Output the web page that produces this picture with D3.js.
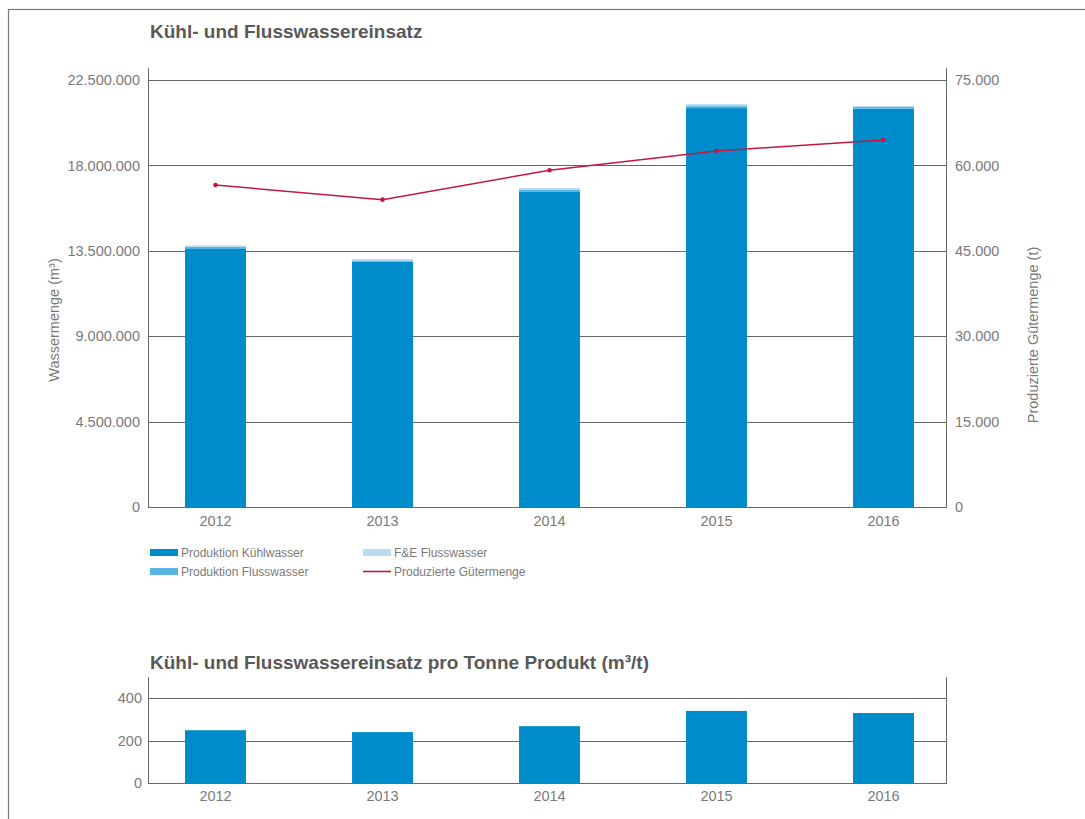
<!DOCTYPE html>
<html lang="de">
<head>
<meta charset="utf-8">
<script src="https://cdn.jsdelivr.net/npm/d3@7"></script>
<style>
  html, body { margin: 0; padding: 0; background: #fff; }
  svg { display: block; font-family: "Liberation Sans", Arial, sans-serif; }
</style>
</head>
<body>
<script>
// Jahre und Werte
const years = ["2012", "2013", "2014", "2015", "2016"];
const kuehlwasser = [13630000, 12920000, 16600000, 21020000, 20990000];      // m³
const flusswasser = [84000, 74000, 105000, 105000, 90000];                    // m³
const feFlusswasser = [74000, 70000, 105000, 105000, 50000];                  // m³
const guetermenge = [56550, 53980, 59140, 62530, 64460];                      // t
const proTonne = [249, 240, 268, 340, 330];                                   // m³/t

const leftTicks = [0, 4500000, 9000000, 13500000, 18000000, 22500000];
const rightTicks = [0, 15000, 30000, 45000, 60000, 75000];
const lowerTicks = [0, 200, 400];

const seriesNames = ["Produktion Kühlwasser", "Produktion Flusswasser", "F&E Flusswasser", "Produzierte Gütermenge"];
const colors = { dark: "#008bcb", mid: "#5bb5e2", light: "#b7dcf1", line: "#c3173f", grid: "#686868", text: "#7a7a7a" };

const W = 1085, H = 819;
const svg = d3.select("body").append("svg").attr("width", W).attr("height", H);

const fmt = d3.formatLocale({ decimal: ",", thousands: ".", grouping: [3], currency: ["", "€"] }).format(",d");

// Rahmen
svg.append("rect").attr("x", 8.5).attr("y", 9.5).attr("width", W + 20).attr("height", H + 20)
  .attr("fill", "none").attr("stroke", "#7a7a7a").attr("stroke-width", 1.2);

const x0 = 148, x1 = 946;

// Obere Grafik
const yTop = 80, yBottom = 507;
const x = d3.scaleBand().domain(years).range([132, 967]).paddingInner(0.635).paddingOuter(0.3175);
const yL = d3.scaleLinear().domain([0, 22500000]).range([yBottom, yTop]);
const yR = d3.scaleLinear().domain([0, 75000]).range([yBottom, yTop]);

svg.append("text").attr("x", 150).attr("y", 38).attr("font-size", 19).attr("font-weight", "bold")
  .attr("fill", "#595959").text("Kühl- und Flusswassereinsatz");

// Gitterlinien
svg.append("g").selectAll("line").data(leftTicks).join("line")
  .attr("x1", x0).attr("x2", x1)
  .attr("y1", d => Math.round(yL(d)) + 0.5).attr("y2", d => Math.round(yL(d)) + 0.5)
  .attr("stroke", colors.grid).attr("stroke-width", 1);

// Achsenlinien
svg.append("line").attr("x1", x0 + 0.5).attr("x2", x0 + 0.5).attr("y1", 68).attr("y2", yBottom + 1)
  .attr("stroke", colors.grid);
svg.append("line").attr("x1", x1 + 0.5).attr("x2", x1 + 0.5).attr("y1", 68).attr("y2", yBottom + 1)
  .attr("stroke", colors.grid);

// Achsenbeschriftungen
const leftAxis = d3.axisLeft(yL).tickValues(leftTicks).tickFormat(fmt).tickSize(0).tickPadding(8);
svg.append("g").attr("transform", `translate(${x0},0)`).call(leftAxis)
  .call(g => g.select(".domain").remove())
  .selectAll("text").attr("font-size", 14.5).attr("fill", colors.text).attr("font-family", "Liberation Sans, Arial, sans-serif");

const rightAxis = d3.axisRight(yR).tickValues(rightTicks).tickFormat(fmt).tickSize(0).tickPadding(9);
svg.append("g").attr("transform", `translate(${x1},0)`).call(rightAxis)
  .call(g => g.select(".domain").remove())
  .selectAll("text").attr("font-size", 14.5).attr("fill", colors.text).attr("font-family", "Liberation Sans, Arial, sans-serif");

const bottomAxis = d3.axisBottom(x).tickSize(0).tickPadding(9);
svg.append("g").attr("transform", `translate(0,${yBottom})`).call(bottomAxis)
  .call(g => g.select(".domain").remove())
  .selectAll("text").attr("font-size", 14.5).attr("fill", colors.text).attr("font-family", "Liberation Sans, Arial, sans-serif");

svg.append("text").attr("transform", `translate(59,320) rotate(-90)`).attr("text-anchor", "middle")
  .attr("font-size", 14.5).attr("fill", colors.text).text("Wassermenge (m³)");
svg.append("text").attr("transform", `translate(1038,335) rotate(-90)`).attr("text-anchor", "middle")
  .attr("font-size", 14.5).attr("fill", colors.text).text("Produzierte Gütermenge (t)");

// Gestapelte Balken
const rows = years.map((y, i) => ({ year: y, k: kuehlwasser[i], f: flusswasser[i], e: feFlusswasser[i] }));
const stack = d3.stack().keys(["k", "f", "e"])(rows);
const stackColors = [colors.dark, colors.mid, colors.light];
svg.append("g").selectAll("g").data(stack).join("g").attr("fill", (d, i) => stackColors[i])
  .selectAll("rect").data(d => d).join("rect")
  .attr("x", d => x(d.data.year)).attr("width", x.bandwidth())
  .attr("y", d => yL(d[1])).attr("height", d => yL(d[0]) - yL(d[1]));

// Linie Gütermenge
const cx = d => x(d.year) + x.bandwidth() / 2;
const pts = years.map((y, i) => ({ year: y, v: guetermenge[i] }));
svg.append("path").datum(pts)
  .attr("d", d3.line().x(cx).y(d => yR(d.v)))
  .attr("fill", "none").attr("stroke", colors.line).attr("stroke-width", 1.5);
svg.append("g").selectAll("circle").data(pts).join("circle")
  .attr("cx", cx).attr("cy", d => yR(d.v)).attr("r", 2.3).attr("fill", colors.line);

// Legende
const legend = svg.append("g").attr("font-size", 12).attr("fill", colors.text);
const legendItems = [
  { name: seriesNames[0], col: 0, row: 0, type: "bar", color: colors.dark },
  { name: seriesNames[1], col: 0, row: 1, type: "bar", color: colors.mid },
  { name: seriesNames[2], col: 1, row: 0, type: "bar", color: colors.light },
  { name: seriesNames[3], col: 1, row: 1, type: "line", color: colors.line }
];
legendItems.forEach(it => {
  const lx = it.col === 0 ? 150 : 363;
  const ly = 552 + it.row * 19;
  if (it.type === "bar") {
    legend.append("rect").attr("x", lx).attr("y", ly - 3).attr("width", 28).attr("height", 7).attr("fill", it.color);
  } else {
    legend.append("line").attr("x1", lx).attr("x2", lx + 28).attr("y1", ly + 0.5).attr("y2", ly + 0.5)
      .attr("stroke", it.color).attr("stroke-width", 1.6);
  }
  legend.append("text").attr("x", lx + 31).attr("y", ly + 4.5).attr("fill", colors.text).text(it.name);
});

// Untere Grafik
const lTop = 677, lBottom = 783;
const yLow = d3.scaleLinear().domain([0, 500]).range([lBottom, lTop]);

svg.append("text").attr("x", 150).attr("y", 669).attr("font-size", 19).attr("font-weight", "bold")
  .attr("fill", "#595959").text("Kühl- und Flusswassereinsatz pro Tonne Produkt (m³/t)");

svg.append("g").selectAll("line").data(lowerTicks).join("line")
  .attr("x1", x0).attr("x2", x1)
  .attr("y1", d => Math.round(yLow(d)) + 0.5).attr("y2", d => Math.round(yLow(d)) + 0.5)
  .attr("stroke", colors.grid);
svg.append("line").attr("x1", x0 + 0.5).attr("x2", x0 + 0.5).attr("y1", lTop).attr("y2", lBottom + 1).attr("stroke", colors.grid);
svg.append("line").attr("x1", x1 + 0.5).attr("x2", x1 + 0.5).attr("y1", lTop).attr("y2", lBottom + 1).attr("stroke", colors.grid);

svg.append("g").selectAll("rect").data(years.map((y, i) => ({ year: y, v: proTonne[i] }))).join("rect")
  .attr("x", d => x(d.year)).attr("width", x.bandwidth())
  .attr("y", d => yLow(d.v)).attr("height", d => yLow(0) - yLow(d.v))
  .attr("fill", colors.dark);

svg.append("g").attr("transform", `translate(${x0},0)`)
  .call(d3.axisLeft(yLow).tickValues(lowerTicks).tickFormat(fmt).tickSize(0).tickPadding(6))
  .call(g => g.select(".domain").remove())
  .selectAll("text").attr("font-size", 14.5).attr("fill", colors.text).attr("font-family", "Liberation Sans, Arial, sans-serif");

svg.append("g").attr("transform", `translate(0,${lBottom})`)
  .call(d3.axisBottom(x).tickSize(0).tickPadding(8))
  .call(g => g.select(".domain").remove())
  .selectAll("text").attr("font-size", 14.5).attr("fill", colors.text).attr("font-family", "Liberation Sans, Arial, sans-serif");
</script>
</body>
</html>
